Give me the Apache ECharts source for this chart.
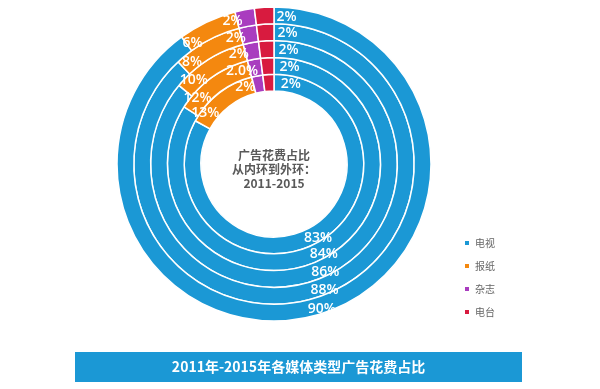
<!DOCTYPE html>
<html><head><meta charset="utf-8">
<script src="https://cdn.jsdelivr.net/npm/echarts@6/dist/echarts.min.js"></script>
<style>html,body{margin:0;padding:0;background:#fff}#main{width:600px;height:389px}</style>
</head><body><div id="main"></div>
<script>
// Categories (media types) and rings (years, inner -> outer)
const categories = ['电视', '报纸', '杂志', '电台'];
const years = ['2011', '2012', '2013', '2014', '2015'];
const tv = [83, 84, 86, 88, 90];
const newspaper = [13, 12, 10, 8, 6];
const magazine = ['2', '2.0', '2', '2', '2'];   // kept as text: the 2012 label reads "2.0%"
const radio = [2, 2, 2, 2, 2];
const titleText = '2011年-2015年各媒体类型广告花费占比';
const centerText = '广告花费占比\n从内环到外环：\n2011-2015';

const colors = ['#1b98d5', '#f4880f', '#a93cbf', '#d81b3f'];
const labelOffsets = [[1, 1], [-17, 16], [-13, 6], [22, 4]];
const seriesValues = [tv, newspaper, magazine, radio];
const center = [274, 164];
const innerR = 73, ringW = 16.8;

const series = years.map((y, i) => ({
  type: 'pie',
  name: y,
  center: center,
  radius: [innerR + ringW * i, innerR + ringW * (i + 1)],
  startAngle: 90,
  clockwise: true,
  avoidLabelOverlap: false,
  silent: true,
  animation: false,
  itemStyle: { borderColor: '#ffffff', borderWidth: 1.5 },
  label: {
    show: true, position: 'inside', color: '#ffffff', fontSize: 14, fontWeight: 600,
    fontFamily: "'Open Sans', 'Noto Sans'",
    formatter: p => p.data.value + '%'
  },
  labelLine: { show: false },
  emphasis: { disabled: true },
  data: categories.map((c, k) => ({
    name: c,
    value: seriesValues[k][i],
    itemStyle: { color: colors[k] },
    label: { offset: labelOffsets[k] }
  }))
}));

const chart = echarts.init(document.getElementById('main'), null, { renderer: 'canvas' });
chart.setOption({
  animation: false,
  color: colors,
  backgroundColor: '#ffffff',
  title: {
    text: titleText,
    left: 298.5, top: 367, padding: 0,
    textAlign: 'center', textVerticalAlign: 'middle',
    textStyle: { color: '#ffffff', fontSize: 14, fontWeight: 'bold', fontFamily: "'Noto Sans CJK SC'" }
  },
  legend: {
    data: categories,
    orient: 'vertical',
    left: 463, top: 238,
    padding: 0,
    icon: 'rect', itemWidth: 6, itemHeight: 6, itemGap: 13,
    selectedMode: false,
    textStyle: { fontSize: 10, lineHeight: 10, color: '#666666', fontFamily: "'Noto Sans CJK SC'" }
  },
  graphic: [
    { type: 'rect', z: 0, shape: { x: 75, y: 352, width: 447, height: 30 }, style: { fill: colors[0] } },
    { type: 'text', z: 10, x: 274, y: 169,
      style: { text: centerText, align: 'center', verticalAlign: 'middle', lineHeight: 14,
        font: "bold 12px 'Noto Sans CJK SC'", fill: '#595959' } }
  ],
  series: series
});
</script></body></html>
